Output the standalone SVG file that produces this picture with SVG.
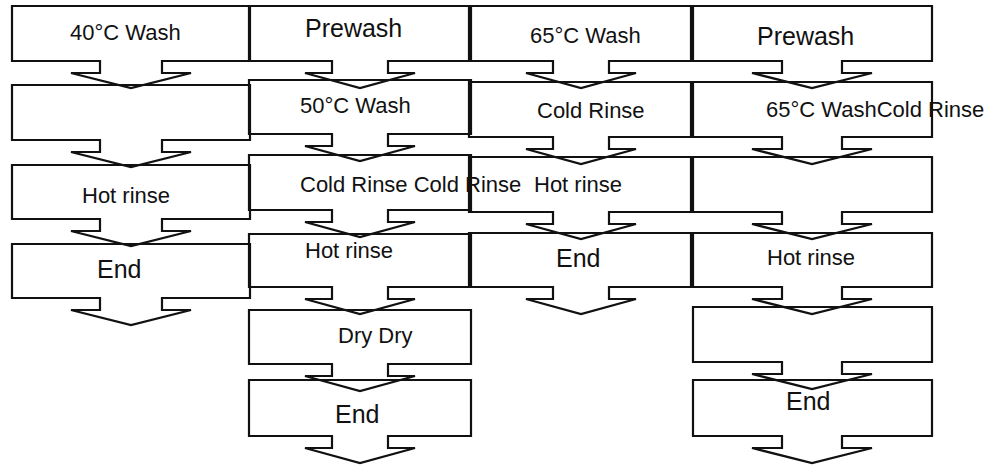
<svg xmlns="http://www.w3.org/2000/svg" width="987" height="468" viewBox="0 0 987 468">
<style>
.s{fill:none;stroke:#111;stroke-width:2.2;stroke-linejoin:miter}
.t{font-family:"Liberation Sans",Arial,sans-serif;font-size:22px;fill:#111}
.b{font-size:25px}
</style>
<rect width="987" height="468" fill="#fff"/>
<g id="c1n1"><path class="s" d="M12 6H250V61H162V73H191L131 88L71 73H100V61H12Z"/><text class="t" x="70" y="40">40°C Wash</text></g>
<g id="c1n2"><path class="s" d="M12 85H250V140H162V152H191L131 167L71 152H100V140H12Z"/></g>
<g id="c1n3"><path class="s" d="M12 165H250V219H162V231H191L131 246L71 231H100V219H12Z"/><text class="t" x="82" y="203">Hot rinse</text></g>
<g id="c1n4"><path class="s" d="M12 244H250V298H162V310H191L131 325L71 310H100V298H12Z"/><text class="t b" x="97" y="278">End</text></g>

<g id="c2n1"><path class="s" d="M249 6H471V61H388V73H415L360 88L305 73H332V61H249Z"/><text class="t b" x="305" y="37">Prewash</text></g>
<g id="c2n2"><path class="s" d="M249 80H471V134H388V146H415L360 161L305 146H332V134H249Z"/><text class="t" x="300" y="113">50°C Wash</text></g>
<g id="c2n3"><path class="s" d="M249 155H471V210H388V222H415L360 237L305 222H332V210H249Z"/><text class="t" x="300" y="192">Cold Rinse Cold Rinse</text></g>
<g id="c2n4"><path class="s" d="M249 234H471V287H388V299H415L360 314L305 299H332V287H249Z"/><text class="t" x="305" y="258">Hot rinse</text></g>
<g id="c2n5"><path class="s" d="M249 310H471V364H388V376H415L360 391L305 376H332V364H249Z"/><text class="t" x="338" y="343">Dry Dry</text></g>
<g id="c2n6"><path class="s" d="M249 380H471V436H388V448H415L360 463L305 448H332V436H249Z"/><text class="t b" x="335" y="423">End</text></g>

<g id="c3n1"><path class="s" d="M469 6H691V61H609V73H636L581 88L526 73H553V61H469Z"/><text class="t" x="530" y="43">65°C Wash</text></g>
<g id="c3n2"><path class="s" d="M469 82H691V137H609V149H636L581 164L526 149H553V137H469Z"/><text class="t" x="537" y="118">Cold Rinse</text></g>
<g id="c3n3"><path class="s" d="M469 157H691V212H609V224H636L581 239L526 224H553V212H469Z"/><text class="t" x="534" y="192">Hot rinse</text></g>
<g id="c3n4"><path class="s" d="M469 233H691V287H609V299H636L581 314L526 299H553V287H469Z"/><text class="t b" x="556" y="267">End</text></g>

<g id="c4n1"><path class="s" d="M693 6H932V61H842V73H872L812 88L752 73H782V61H693Z"/><text class="t b" x="757" y="45">Prewash</text></g>
<g id="c4n2"><path class="s" d="M693 82H932V137H842V149H872L812 164L752 149H782V137H693Z"/><text class="t" x="766" y="117">65°C WashCold Rinse</text></g>
<g id="c4n3"><path class="s" d="M693 157H932V212H842V224H872L812 239L752 224H782V212H693Z"/></g>
<g id="c4n4"><path class="s" d="M693 233H932V287H842V299H872L812 314L752 299H782V287H693Z"/><text class="t" x="767" y="265">Hot rinse</text></g>
<g id="c4n5"><path class="s" d="M693 307H932V362H842V374H872L812 389L752 374H782V362H693Z"/></g>
<g id="c4n6"><path class="s" d="M693 380H932V436H842V448H872L812 463L752 448H782V436H693Z"/><text class="t b" x="786" y="410">End</text></g>
<g id="connectors"/>
</svg>
